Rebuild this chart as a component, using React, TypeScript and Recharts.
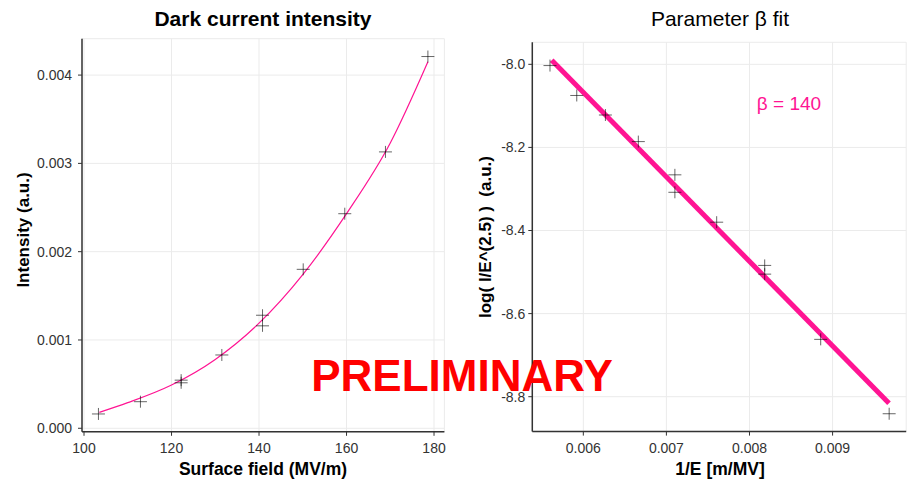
import React from 'react';
import {
  ComposedChart,
  Line,
  Scatter,
  XAxis,
  YAxis,
  CartesianGrid,
} from 'recharts';

// measured points, left panel
const fieldValues = [103.3, 112.9, 122.2, 122.2, 131.5, 140.8, 140.8, 150.1, 159.6, 168.9, 178.6];
const intensityValues = [
  0.000162, 0.000301, 0.000545, 0.000515, 0.00083, 0.00128, 0.00116, 0.0018, 0.00243, 0.00313, 0.00421,
];

// fitted curve
const curveField = [103.5, 110, 120, 130, 140, 150, 160, 170, 178.6];
const curveIntensity = [0.00018, 0.00029, 0.00049, 0.00078, 0.00119, 0.00174, 0.00243, 0.00323, 0.00415];

// right panel: log10(I/E^2.5) vs 1/E
const inverseField = [
  0.005599, 0.005921, 0.006266, 0.006662, 0.007102, 0.007102, 0.007605, 0.008183, 0.008183, 0.008857, 0.009681,
];
const logValues = [-8.003, -8.075, -8.122, -8.186, -8.266, -8.308, -8.38, -8.484, -8.505, -8.662, -8.841];

const fitInverse = [0.00562, 0.009679];
const fitLog = [-7.99, -8.816];

const leftXTicks = [100, 120, 140, 160, 180];
const leftYTicks = [0, 0.001, 0.002, 0.003, 0.004];
const rightXTicks = [0.006, 0.007, 0.008, 0.009];
const rightYTicks = [-8.0, -8.2, -8.4, -8.6, -8.8];

const PINK = '#ff1493';
const FONT = 'Liberation Sans, Arial, sans-serif';

const toXY = (xs: number[], ys: number[]) => xs.map((x, i) => ({ x, y: ys[i] }));

const leftPoints = toXY(fieldValues, intensityValues);
const leftCurve = toXY(curveField, curveIntensity);
const rightPoints = toXY(inverseField, logValues);
const rightFit = toXY(fitInverse, fitLog);

const Cross = (props: any) => {
  const { cx, cy } = props;
  if (cx == null || cy == null) return null;
  return (
    <g stroke="#000" strokeOpacity={0.6} strokeWidth={1}>
      <line x1={cx - 6.5} y1={cy} x2={cx + 6.5} y2={cy} />
      <line x1={cx} y1={cy - 6} x2={cx} y2={cy + 6} />
    </g>
  );
};

const tickStyle = { fontSize: 14, fill: '#333', fontFamily: FONT };
const axisLine = { stroke: '#333', strokeWidth: 1.5 };
const tickLine = { stroke: '#333' };

export default function App() {
  return (
    <div style={{ position: 'absolute', left: 0, top: 0, width: 916, height: 479, background: '#fff' }}>
      <div style={{ position: 'absolute', left: 0, top: 0 }}>
        <ComposedChart
          width={460}
          height={479}
          margin={{ top: 38.7, right: 15.6, left: 22, bottom: 17.2 }}
        >
          <CartesianGrid stroke="#ebebeb" strokeWidth={1} />
          <XAxis
            type="number"
            dataKey="x"
            domain={[99.54, 182.37]}
            ticks={leftXTicks}
            tick={tickStyle}
            tickSize={4}
            tickMargin={7}
            height={30}
            axisLine={axisLine}
            tickLine={tickLine}
            allowDataOverflow
          />
          <YAxis
            type="number"
            dataKey="y"
            domain={[-0.00004, 0.004412]}
            ticks={leftYTicks}
            tickFormatter={(v: number) => v.toFixed(3)}
            tick={tickStyle}
            tickSize={4}
            tickMargin={6}
            width={60}
            axisLine={axisLine}
            tickLine={tickLine}
            allowDataOverflow
          />
          <Line
            data={leftCurve}
            dataKey="y"
            type="monotone"
            stroke={PINK}
            strokeWidth={1.2}
            dot={false}
            isAnimationActive={false}
          />
          <Scatter data={leftPoints} dataKey="y" shape={Cross} isAnimationActive={false} />
        </ComposedChart>
      </div>

      <div style={{ position: 'absolute', left: 460, top: 0 }}>
        <ComposedChart
          width={456}
          height={479}
          margin={{ top: 42.3, right: 9.8, left: 22.3, bottom: 17.4 }}
        >
          <CartesianGrid stroke="#ebebeb" strokeWidth={1} />
          <XAxis
            type="number"
            dataKey="x"
            domain={[0.005386, 0.009886]}
            ticks={rightXTicks}
            tickFormatter={(v: number) => v.toFixed(3)}
            tick={tickStyle}
            tickSize={4}
            tickMargin={7}
            height={30}
            axisLine={axisLine}
            tickLine={tickLine}
            allowDataOverflow
          />
          <YAxis
            type="number"
            dataKey="y"
            domain={[-8.884, -7.947]}
            ticks={rightYTicks}
            tickFormatter={(v: number) => v.toFixed(1)}
            tick={tickStyle}
            tickSize={4}
            tickMargin={3}
            width={50}
            axisLine={axisLine}
            tickLine={tickLine}
            allowDataOverflow
          />
          <Line
            data={rightFit}
            dataKey="y"
            type="linear"
            stroke={PINK}
            strokeWidth={5}
            dot={false}
            isAnimationActive={false}
          />
          <Scatter data={rightPoints} dataKey="y" shape={Cross} isAnimationActive={false} />
        </ComposedChart>
      </div>

      {/* titles, axis labels and annotations */}
      <svg
        width={916}
        height={479}
        style={{ position: 'absolute', left: 0, top: 0, pointerEvents: 'none' }}
        fontFamily={FONT}
      >
        <text x={263} y={26} textAnchor="middle" fontSize={21} fontWeight="bold" fill="#000">
          Dark current intensity
        </text>
        <text x={720} y={26} textAnchor="middle" fontSize={21} fill="#000">
          Parameter β fit
        </text>
        <text x={263} y={475} textAnchor="middle" fontSize={17.5} fontWeight="bold" fill="#000">
          Surface field (MV/m)
        </text>
        <text x={720} y={475} textAnchor="middle" fontSize={17.5} fontWeight="bold" fill="#000">
          1/E [m/MV]
        </text>
        <text
          x={23}
          y={230}
          transform="rotate(-90 23 230)"
          textAnchor="middle"
          dominantBaseline="central"
          fontSize={17}
          fontWeight="bold"
          fill="#000"
        >
          Intensity (a.u.)
        </text>
        <text
          x={485}
          y={237}
          transform="rotate(-90 485 237)"
          textAnchor="middle"
          dominantBaseline="central"
          fontSize={17}
          fontWeight="bold"
          fill="#000"
        >
          {'log( I/E^(2.5) )\u00a0\u00a0(a.u.)'}
        </text>
        <text x={789} y={110} textAnchor="middle" fontSize={19} fill={PINK}>
          β = 140
        </text>
        <text x={462} y={391} textAnchor="middle" fontSize={44} fontWeight="bold" fill="#ff0000">
          PRELIMINARY
        </text>
      </svg>
    </div>
  );
}
